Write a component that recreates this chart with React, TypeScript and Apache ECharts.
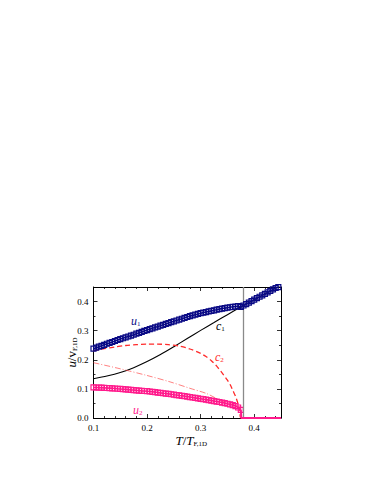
import React, { useEffect, useRef } from 'react';
import * as echarts from 'echarts';

// Temperature grid (T / T_F,1D) for the marker series below T_c
const uLowT = [
  0.100, 0.105, 0.110, 0.115, 0.120, 0.125, 0.130, 0.135, 0.140, 0.145,
  0.150, 0.155, 0.160, 0.165, 0.170, 0.175, 0.180, 0.185, 0.190, 0.195,
  0.200, 0.205, 0.210, 0.215, 0.220, 0.225, 0.230, 0.235, 0.240, 0.245,
  0.250, 0.255, 0.260, 0.265, 0.270, 0.275, 0.280, 0.285, 0.290, 0.295,
  0.300, 0.305, 0.310, 0.315, 0.320, 0.325, 0.330, 0.335, 0.340, 0.345,
  0.350, 0.355, 0.360, 0.365, 0.370, 0.375,
];
const u1Low = [
  0.238, 0.2415, 0.245, 0.248, 0.2515, 0.255, 0.258, 0.261, 0.2645, 0.268,
  0.271, 0.274, 0.277, 0.280, 0.283, 0.286, 0.2895, 0.2925, 0.296, 0.299,
  0.302, 0.305, 0.308, 0.311, 0.314, 0.317, 0.320, 0.323, 0.326, 0.329,
  0.332, 0.335, 0.338, 0.341, 0.344, 0.347, 0.350, 0.3525, 0.355, 0.3575,
  0.360, 0.362, 0.364, 0.366, 0.368, 0.370, 0.372, 0.374, 0.376, 0.3775,
  0.379, 0.3805, 0.382, 0.383, 0.384, 0.383,
];
const u2Low = [
  0.105, 0.1047, 0.1043, 0.104, 0.1035, 0.103, 0.1025, 0.102, 0.1013, 0.1005,
  0.0998, 0.099, 0.0983, 0.0975, 0.0967, 0.096, 0.095, 0.0942, 0.0933, 0.0927,
  0.092, 0.091, 0.090, 0.089, 0.0875, 0.0863, 0.085, 0.084, 0.083, 0.0815,
  0.080, 0.0788, 0.0775, 0.0763, 0.075, 0.0735, 0.072, 0.0705, 0.069, 0.0675,
  0.066, 0.0645, 0.063, 0.0615, 0.060, 0.058, 0.0565, 0.055, 0.053, 0.051,
  0.049, 0.0465, 0.044, 0.041, 0.036, 0.028,
];

// Above T_c
const u1HighT = [
  0.375, 0.380, 0.385, 0.390, 0.395, 0.400, 0.405, 0.410, 0.415, 0.420,
  0.425, 0.430, 0.435, 0.440, 0.445,
];
const u1High = [
  0.3815, 0.3865, 0.3915, 0.3965, 0.4015, 0.4065, 0.4115, 0.4165, 0.4215, 0.4265,
  0.4315, 0.4365, 0.4415, 0.4465, 0.4498,
];
const u2HighT = [0.375, 0.376, 0.450];
const u2High = [0.028, 0, 0];

// c1 (solid black)
const c1T = [0.100, 0.125, 0.150, 0.175, 0.200, 0.225, 0.250, 0.275, 0.300, 0.325, 0.350, 0.375, 0.400, 0.425, 0.450];
const c1Vals = [0.135, 0.144, 0.156, 0.173, 0.194, 0.218, 0.245, 0.273, 0.301, 0.328, 0.355, 0.381, 0.406, 0.431, 0.456];

// c2 (red dashed)
const c2T = [0.100, 0.120, 0.140, 0.160, 0.180, 0.200, 0.220, 0.240, 0.260, 0.280, 0.300, 0.310, 0.320, 0.330, 0.340, 0.350, 0.355, 0.360, 0.365, 0.370, 0.373, 0.375, 0.400, 0.450];
const c2Vals = [0.231, 0.238, 0.244, 0.249, 0.252, 0.2535, 0.2535, 0.252, 0.247, 0.237, 0.222, 0.211, 0.197, 0.178, 0.155, 0.130, 0.115, 0.095, 0.075, 0.048, 0.028, 0, 0, 0];

// thin red dash-dot curve
const ddT = [0.100, 0.150, 0.200, 0.243, 0.280, 0.311, 0.340, 0.360, 0.375];
const ddVals = [0.190, 0.169, 0.146, 0.124, 0.102, 0.084, 0.058, 0.047, 0.030];

const Tc = 0.375;

const xTickValues = [0.1, 0.2, 0.3, 0.4];
const yTickValues = [0.0, 0.1, 0.2, 0.3, 0.4];

const NAVY = '#0a0a85';
const MAGENTA = '#ff1a8c';
const RED = '#ff2a2a';
const SERIF = '"Liberation Serif", "DejaVu Serif", serif';

const pairs = (xs: number[], ys: number[]) => xs.map((x, i) => [x, ys[i]]);

const richText = {
  i: { fontFamily: SERIF, fontStyle: 'italic', fontSize: 13, color: '#000', lineHeight: 14 },
  r: { fontFamily: SERIF, fontSize: 13, color: '#000', lineHeight: 14 },
  s: { fontFamily: SERIF, fontSize: 7, color: '#000', verticalAlign: 'bottom', lineHeight: 7 },
};

function labelRich(color: string) {
  return {
    i: { fontFamily: SERIF, fontStyle: 'italic', fontSize: 12, fill: color, lineHeight: 13 },
    s: { fontFamily: SERIF, fontSize: 7, fill: color, verticalAlign: 'bottom', lineHeight: 7 },
  };
}

export default function App() {
  const ref = useRef<HTMLDivElement>(null);
  useEffect(() => {
    document.body.style.margin = '0';
    const chart = echarts.init(ref.current!, null, { renderer: 'svg' });
    const tickFmt = (v: number) => v.toFixed(1);
    const axisCommon = {
      type: 'value' as const,
      splitLine: { show: false },
      axisLine: { show: true, onZero: false, lineStyle: { color: '#000', width: 1 } },
      axisTick: { show: true, inside: true, length: 4, lineStyle: { color: '#000', width: 0.8 } },
    };
    const markerSeries = (name: string, data: number[][], color: string, z: number) => ({
      name,
      type: 'line',
      data,
      symbol: 'rect',
      symbolSize: 5,
      showAllSymbol: true,
      clip: true,
      itemStyle: { color: 'rgba(255,255,255,0)', borderColor: color, borderWidth: 1.2 },
      lineStyle: { color, width: 1.6 },
      z,
    });
    const option: any = {
      animation: false,
      grid: { left: 93.5, top: 287, right: 93, bottom: 66, containLabel: false },
      xAxis: [
        {
          ...axisCommon,
          position: 'bottom',
          min: 0.1,
          max: 0.45,
          interval: 0.1,
          minorTick: { show: true, splitNumber: 5, length: 2, lineStyle: { color: '#000', width: 0.8 } },
          axisLabel: {
            show: true,
            fontFamily: SERIF,
            fontSize: 9,
            color: '#000',
            margin: 5,
            showMaxLabel: false,
            formatter: (v: number) => (xTickValues.some((t) => Math.abs(t - v) < 1e-6) ? tickFmt(v) : ''),
          },
          name: '{i|T}{r|/}{i|T}{s|F,1D}',
          nameLocation: 'middle',
          nameGap: 15,
          nameMoveOverlap: false,
          nameTextStyle: { rich: richText, padding: [0, 0, 0, 8] },
        },
        {
          ...axisCommon,
          position: 'top',
          min: 0.1,
          max: 0.45,
          interval: 0.1,
          minorTick: { show: true, splitNumber: 5, length: 2, lineStyle: { color: '#000', width: 0.8 } },
          axisLabel: { show: false },
        },
      ],
      yAxis: [
        {
          ...axisCommon,
          position: 'left',
          min: 0,
          max: 0.45,
          interval: 0.1,
          minorTick: { show: true, splitNumber: 2, length: 2, lineStyle: { color: '#000', width: 0.8 } },
          axisLabel: {
            show: true,
            fontFamily: SERIF,
            fontSize: 9,
            color: '#000',
            margin: 5,
            showMaxLabel: false,
            formatter: (v: number) => (yTickValues.some((t) => Math.abs(t - v) < 1e-6) ? tickFmt(v) : ''),
          },
          name: '{i|u}{r|/v}{s|F,1D}',
          nameLocation: 'middle',
          nameGap: 15,
          nameMoveOverlap: false,
          nameTextStyle: { rich: richText },
        },
        {
          ...axisCommon,
          position: 'right',
          min: 0,
          max: 0.45,
          interval: 0.1,
          minorTick: { show: true, splitNumber: 2, length: 2, lineStyle: { color: '#000', width: 0.8 } },
          axisLabel: { show: false },
        },
      ],
      series: [
        {
          name: 'c1',
          type: 'line',
          data: pairs(c1T, c1Vals),
          showSymbol: false,
          smooth: 0.25,
          lineStyle: { color: '#000', width: 1.1 },
          z: 2,
          markLine: {
            silent: true,
            symbol: ['none', 'none'],
            label: { show: false },
            lineStyle: { color: '#8a8a8a', width: 1.3, type: 'solid' },
            data: [{ xAxis: Tc }],
          },
        },
        {
          name: 'c2',
          type: 'line',
          data: pairs(c2T, c2Vals),
          showSymbol: false,
          smooth: 0.3,
          lineStyle: { color: RED, width: 1.3, type: [5, 3] },
          z: 3,
        },
        {
          name: 'dashdot',
          type: 'line',
          data: pairs(ddT, ddVals),
          showSymbol: false,
          smooth: 0.3,
          lineStyle: { color: '#ff4a4a', width: 0.7, type: [6, 2, 1, 2] },
          z: 3,
        },
        {
          name: 'u2 above Tc',
          type: 'line',
          data: pairs(u2HighT, u2High),
          showSymbol: false,
          lineStyle: { color: MAGENTA, width: 2 },
          z: 6,
        },
        markerSeries('u2', pairs(uLowT, u2Low), MAGENTA, 4),
        markerSeries('u1', pairs(uLowT, u1Low).concat(pairs(u1HighT, u1High)), NAVY, 5),
      ],
      graphic: [
        { type: 'text', x: 131, y: 321, style: { text: '{i|u}{s|1}', rich: labelRich(NAVY), verticalAlign: 'middle' } },
        { type: 'text', x: 216, y: 326, style: { text: '{i|c}{s|1}', rich: labelRich('#000'), verticalAlign: 'middle' } },
        { type: 'text', x: 215, y: 357, style: { text: '{i|c}{s|2}', rich: labelRich(RED), verticalAlign: 'middle' } },
        { type: 'text', x: 133, y: 410, style: { text: '{i|u}{s|2}', rich: labelRich(MAGENTA), verticalAlign: 'middle' } },
      ],
    };
    chart.setOption(option);
    return () => chart.dispose();
  }, []);
  return <div ref={ref} style={{ width: 374, height: 484 }} />;
}
